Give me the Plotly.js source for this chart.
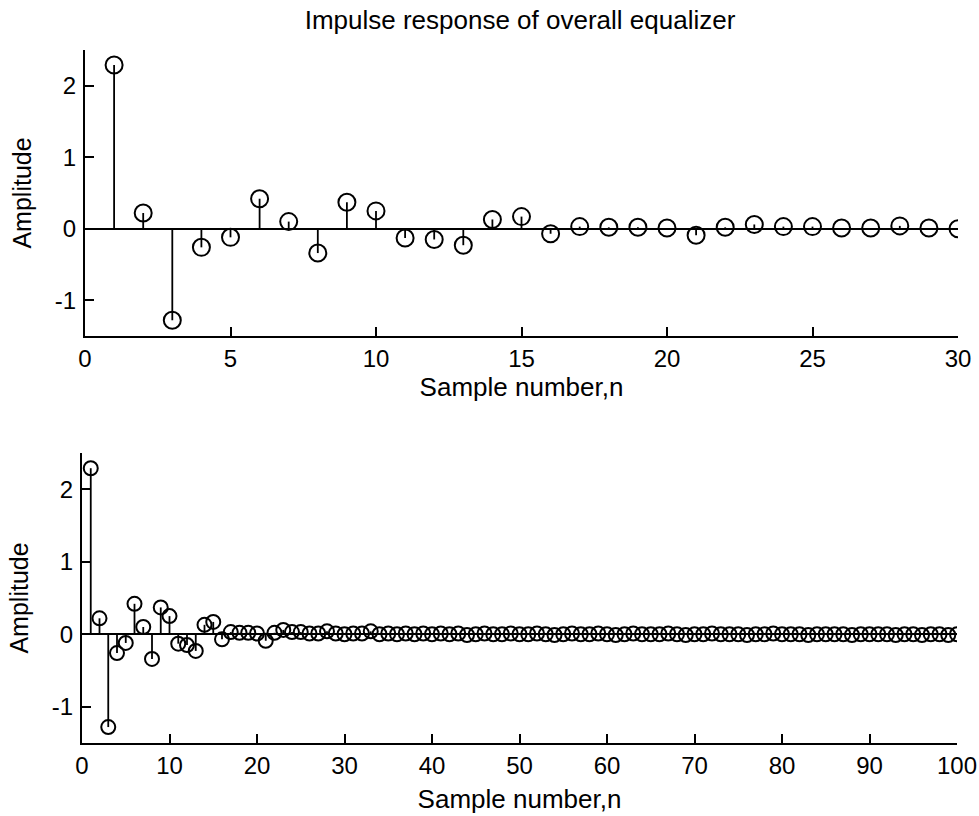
<!DOCTYPE html>
<html>
<head>
<meta charset="utf-8">
<script src="https://cdn.plot.ly/plotly-3.0.1.min.js"></script>
<style>html,body{margin:0;padding:0;background:#fff;}#chart{width:979px;height:816px;}</style>
</head>
<body>
<div id="chart"></div>
<script>
// Impulse response of overall equalizer, h[n] for n = 1..100
const sampleNumbers = Array.from({length: 100}, (_, i) => i + 1);
const amplitude = [
  2.29, 0.22, -1.28, -0.26, -0.12, 0.42, 0.10, -0.34, 0.37, 0.25,
  -0.13, -0.15, -0.23, 0.13, 0.17, -0.07, 0.03, 0.02, 0.02, 0.01,
  -0.09, 0.02, 0.06, 0.03, 0.03, 0.01, 0.01, 0.04, 0.01, 0.00,
  0.01, 0.01, 0.04, 0.00, 0.01, 0.00, 0.01, 0.00, 0.01, 0.00,
  0.01, 0.00, 0.01, -0.01, 0.00, 0.01, 0.00, 0.00, 0.01, 0.00,
  0.00, 0.01, 0.00, -0.01, 0.00, 0.01, 0.00, 0.00, 0.01, 0.00,
  -0.01, 0.00, 0.01, 0.00, 0.00, 0.00, 0.01, 0.00, -0.01, 0.00,
  0.00, 0.01, 0.00, 0.00, 0.00, -0.01, 0.00, 0.00, 0.01, 0.00,
  0.00, 0.00, -0.01, 0.00, 0.00, 0.00, 0.00, -0.01, 0.00, 0.00,
  0.00, 0.00, -0.01, 0.00, 0.00, -0.01, 0.00, 0.00, -0.01, 0.00
];
const topCount = 30;
const topTicks = [0, 5, 10, 15, 20, 25, 30];
const bottomTicks = [0, 10, 20, 30, 40, 50, 60, 70, 80, 90, 100];
const yTicks = [-1, 0, 1, 2];
const yTickText = ['-1', '0', '1', '2'];
const titleText = 'Impulse response of overall equalizer';
const xTitleText = 'Sample number,n';
const yTitleText = 'Amplitude';

function stemXY(xs, ys) {
  const sx = [], sy = [];
  xs.forEach((x, i) => { sx.push(x, x, null); sy.push(0, ys[i], null); });
  return {sx, sy};
}

const FONT = 'Liberation Sans, Arial, sans-serif';
const topX = sampleNumbers.slice(0, topCount), topY = amplitude.slice(0, topCount);
const s1 = stemXY(topX, topY), s2 = stemXY(sampleNumbers, amplitude);

const traces = [
  {x: s1.sx, y: s1.sy, xaxis: 'x', yaxis: 'y', mode: 'lines', line: {color: '#000', width: 1.8}, hoverinfo: 'skip', showlegend: false},
  {x: topX, y: topY, xaxis: 'x', yaxis: 'y', mode: 'markers', marker: {symbol: 'circle-open', size: 17, color: '#000', line: {width: 2, color: '#000'}}, showlegend: false},
  {x: s2.sx, y: s2.sy, xaxis: 'x2', yaxis: 'y2', mode: 'lines', line: {color: '#000', width: 1.8}, hoverinfo: 'skip', showlegend: false},
  {x: sampleNumbers, y: amplitude, xaxis: 'x2', yaxis: 'y2', mode: 'markers', marker: {symbol: 'circle-open', size: 14, color: '#000', line: {width: 2, color: '#000'}}, showlegend: false}
];

const axisCommon = {
  showgrid: false, showline: true, linecolor: '#000', linewidth: 2,
  ticks: 'inside', ticklen: 9, tickwidth: 2, tickcolor: '#000',
  tickfont: {family: FONT, size: 24, color: '#000'}, mirror: false, fixedrange: true
};

const layout = {
  width: 979, height: 816,
  margin: {l: 0, r: 0, t: 0, b: 0},
  paper_bgcolor: '#fff', plot_bgcolor: '#fff',
  font: {family: FONT, color: '#000'},
  title: {text: titleText, font: {family: FONT, size: 26, color: '#000'}, x: 520 / 979, xanchor: 'center', xref: 'paper', y: 1 - 20 / 816, yanchor: 'middle', yref: 'container'},
  xaxis: Object.assign({}, axisCommon, {domain: [85 / 979, 958 / 979], anchor: 'y', range: [0, 30], tickvals: topTicks, zeroline: false,
    title: {text: xTitleText, font: {family: FONT, size: 26, color: '#000'}, standoff: 6}}),
  yaxis: Object.assign({}, axisCommon, {domain: [(816 - 336) / 816, (816 - 50) / 816], anchor: 'x', range: [-1.5, 2.5], tickvals: yTicks, ticktext: yTickText,
    zeroline: true, zerolinecolor: '#000', zerolinewidth: 2, ticklabelstandoff: 2,
    title: {text: yTitleText, font: {family: FONT, size: 25, color: '#000'}, standoff: 16}}),
  xaxis2: Object.assign({}, axisCommon, {domain: [82 / 979, 957 / 979], anchor: 'y2', range: [0, 100], tickvals: bottomTicks, zeroline: false,
    title: {text: xTitleText, font: {family: FONT, size: 26, color: '#000'}, standoff: 12}}),
  yaxis2: Object.assign({}, axisCommon, {domain: [(816 - 743) / 816, (816 - 453) / 816], anchor: 'x2', range: [-1.5, 2.5], tickvals: yTicks, ticktext: yTickText,
    zeroline: true, zerolinecolor: '#000', zerolinewidth: 2, ticklabelstandoff: 2,
    title: {text: yTitleText, font: {family: FONT, size: 25, color: '#000'}, standoff: 16}})
};

Plotly.newPlot('chart', traces, layout, {displayModeBar: false, staticPlot: true});
</script>
</body>
</html>
